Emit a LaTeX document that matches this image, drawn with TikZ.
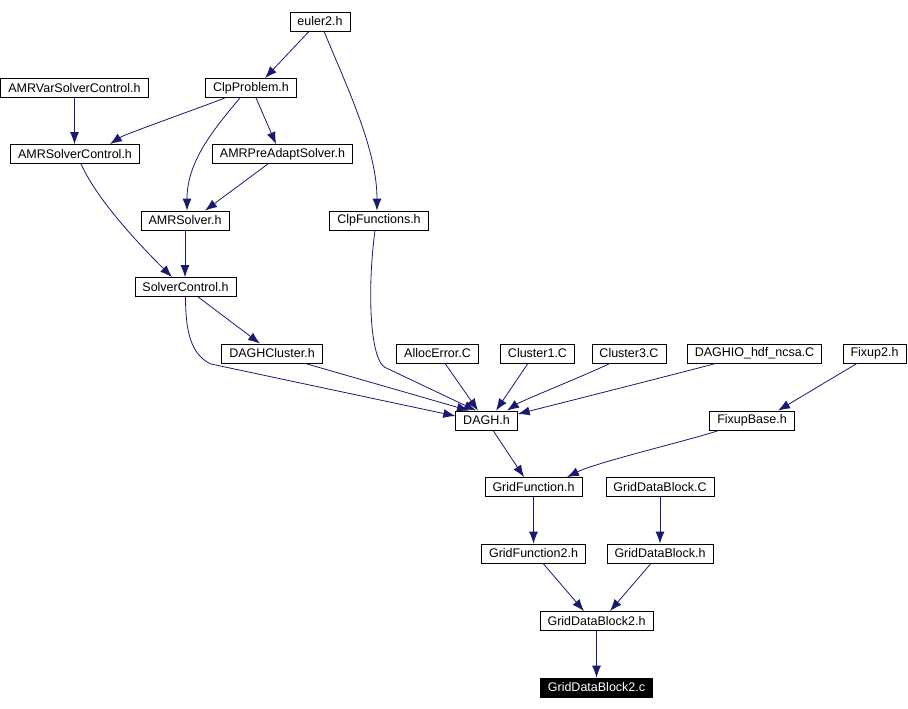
\documentclass[tikz,border=0pt]{standalone}
\usepackage{fontspec}
\setmainfont{Liberation Sans}
\usepackage{xcolor}
\usepackage{tikz}
\usetikzlibrary{arrows.meta}
\definecolor{edgeblue}{RGB}{25,25,112}

\begin{document}
\begin{tikzpicture}[x=1pt, y=-1pt,
    box/.style={draw=black, line width=0.8pt, fill=white, inner xsep=7.5pt, inner ysep=0pt,
        minimum height=19pt, font=\fontsize{12.5}{14}\selectfont},
    here/.style={box, fill=black, text=white},
    edge/.style={draw=edgeblue, line width=0.8pt, -{Latex[length=12pt,width=9pt]}}]
    \useasboundingbox (0,0) rectangle (908,709);

    % Les fichiers en haut
    \node[box] (eul) at (320,21.5) {euler2.h};
    \node[box] (varctl) at (74.5,88) {AMRVarSolverControl.h};
    \node[box] (clpprob) at (251,88) {ClpProblem.h};
    \node[box] (amrctl) at (75,154) {AMRSolverControl.h};
    \node[box] (preadapt) at (282.5,154) {AMRPreAdaptSolver.h};
    \node[box] (amrsol) at (185,220.5) {AMRSolver.h};
    \node[box] (clpfun) at (379,220.5) {ClpFunctions.h};
    \node[box] (solctl) at (185.5,287) {SolverControl.h};

    % La ligne des fichiers .C
    \node[box] (daghcl) at (272,353.5) {DAGHCluster.h};
    \node[box] (alloc) at (437.5,353.5) {AllocError.C};
    \node[box] (cl1) at (537.5,353.5) {Cluster1.C};
    \node[box] (cl3) at (629,353.5) {Cluster3.C};
    \node[box] (daghio) at (754.5,353.5) {DAGHIO\_hdf\_ncsa.C};
    \node[box] (fix2) at (874.5,353.5) {Fixup2.h};

    % DAGH et la suite
    \node[box] (dagh) at (486.5,420.5) {DAGH.h};
    \node[box] (fixbase) at (752,420.5) {FixupBase.h};
    \node[box] (gfun) at (533.5,487) {GridFunction.h};
    \node[box] (gdbc) at (660,487) {GridDataBlock.C};
    \node[box] (gfun2) at (533.5,553.5) {GridFunction2.h};
    \node[box] (gdbh) at (660,553.5) {GridDataBlock.h};
    \node[box] (gdb2h) at (596.5,621) {GridDataBlock2.h};
    \node[here] (gdb2c) at (596.5,687.5) {GridDataBlock2.c};

    % Les fleches du haut
    \draw[edge] ([xshift=-11pt]eul.south) -- ([xshift=14pt]clpprob.north);
    \draw[edge] ([xshift=4pt]eul.south) .. controls +(25,60) and +(0,-60) .. ([xshift=-2pt]clpfun.north);
    \draw[edge] (varctl.south) -- (varctl.south |- amrctl.north);
    \draw[edge] ([xshift=-26pt]clpprob.south) .. controls +(-20,8) and +(15,-10) .. ([xshift=35pt]amrctl.north);
    \draw[edge] ([xshift=-11pt]clpprob.south) .. controls +(-25,30) and +(0,-50) .. ([xshift=2pt]amrsol.north);
    \draw[edge] ([xshift=5pt]clpprob.south) -- ([xshift=-6.5pt]preadapt.north);
    \draw[edge] ([xshift=-14.5pt]preadapt.south) -- ([xshift=20pt]amrsol.north);
    \draw[edge] ([xshift=6pt]amrctl.south) .. controls +(18,40) and +(-25,-25) .. ([xshift=-13.5pt]solctl.north);
    \draw[edge] (amrsol.south) -- (amrsol.south |- solctl.north);

    % Vers DAGH.h
    \draw[edge] ([xshift=12.5pt]solctl.south) -- ([xshift=-12pt]daghcl.north);
    \draw[edge] (solctl.south) .. controls +(0,45) and +(-15,-8) .. ++(25,67) -- ([yshift=4.5pt]dagh.west);
    \draw[edge] ([xshift=33pt]daghcl.south) -- ([xshift=-17.5pt]dagh.north);
    \draw[edge] ([xshift=-4pt]clpfun.south) .. controls +(-8,60) and +(-15,-8) .. ++(10,137) -- ([xshift=-10.5pt]dagh.north);
    \draw[edge] ([xshift=7.5pt]alloc.south) -- ([xshift=-8.5pt]dagh.north);
    \draw[edge] ([xshift=-9.5pt]cl1.south) -- ([xshift=9.5pt]dagh.north);
    \draw[edge] ([xshift=-19pt]cl3.south) .. controls +(-25,12) and +(15,-10) .. ([xshift=20.5pt]dagh.north);
    \draw[edge] ([xshift=-38.5pt]daghio.south) .. controls +(-30,8) and +(40,-10) .. ([yshift=6.5pt]dagh.east);
    \draw[edge] ([xshift=-17.5pt]fix2.south) -- ([xshift=26pt]fixbase.north);

    % Le bas
    \draw[edge] ([xshift=6.5pt]dagh.south) -- ([xshift=-9.5pt]gfun.north);
    \draw[edge] ([xshift=-33pt]fixbase.south) .. controls +(-30,10) and +(30,-15) .. ([xshift=33.5pt]gfun.north);
    \draw[edge] (gfun.south) -- (gfun2.north);
    \draw[edge] (gdbc.south) -- (gdbh.north);
    \draw[edge] ([xshift=9.5pt]gfun2.south) -- ([xshift=-12.5pt]gdb2h.north);
    \draw[edge] ([xshift=-9pt]gdbh.south) -- ([xshift=13.5pt]gdb2h.north);
    \draw[edge] (gdb2h.south) -- (gdb2c.north);
\end{tikzpicture}
\end{document}
